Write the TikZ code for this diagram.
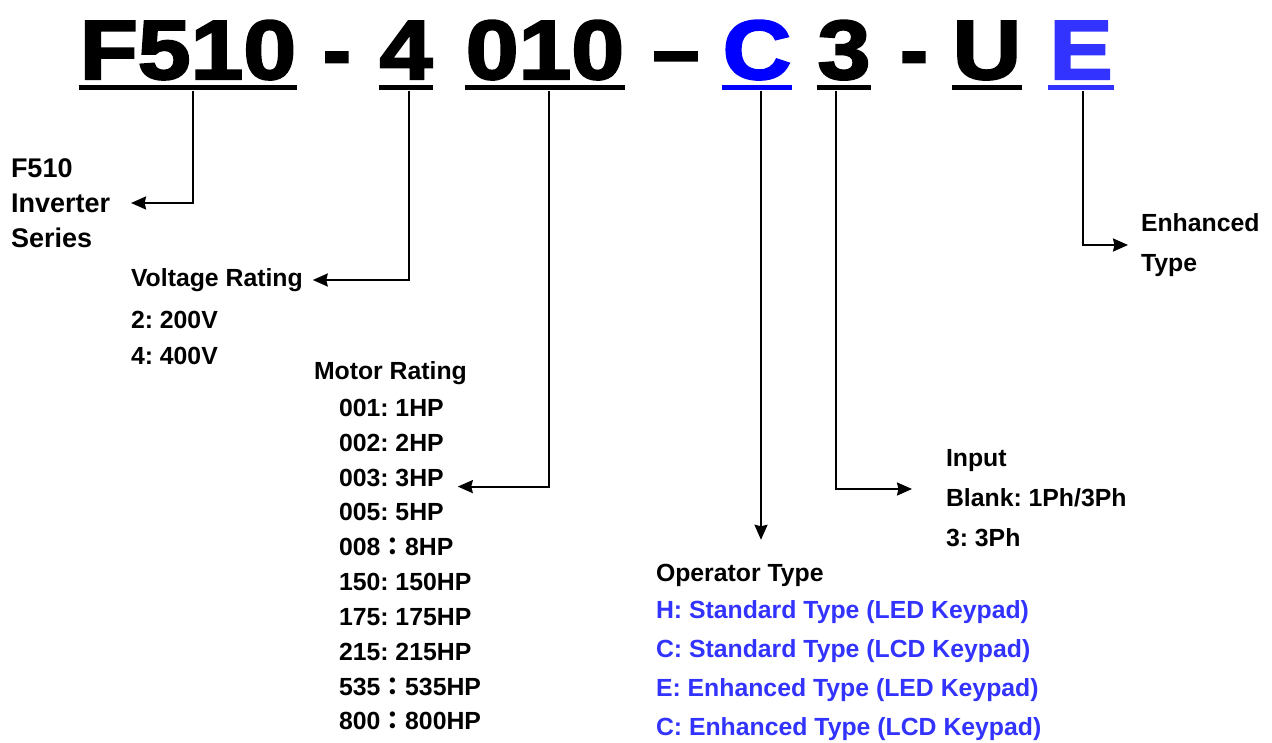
\documentclass[tikz,border=0pt]{standalone}
\usepackage{fontspec}
\usepackage{graphicx}
\setmainfont{Liberation Sans}
\newfontfamily\codefont{Liberation Sans}[FakeBold=2.5]
\newfontfamily\cjk{Noto Sans CJK JP}
\usetikzlibrary{arrows.meta}
\definecolor{codeblue}{RGB}{0,0,255}
\definecolor{optblue}{RGB}{51,51,255}
\frenchspacing

\begin{document}
\begin{tikzpicture}[x=1pt,y=-1pt,line width=2pt,>={Stealth[length=15pt,width=13pt,inset=1.5pt]},
  code/.style={font=\codefont\bfseries\fontsize{84}{84}\selectfont,inner sep=0pt,anchor=base},
  lbl/.style={font=\bfseries\fontsize{24.8}{30}\selectfont,inner sep=0pt,anchor=west},
  uline/.style={line width=5pt},
  conn/.style={->,line width=2pt}]
  \useasboundingbox (0,0) rectangle (1272,743);
  % Model code (top row)
  \node[code] (f510) at (188,79) {\scalebox{1.13}[1]{F510}};
  \node[code] (d1)   at (337,79) {-};
  \node[code] (n4)   at (406,79) {\scalebox{1.13}[1]{4}};
  \node[code] (n010) at (545,79) {\scalebox{1.13}[1]{010}};
  \node[code] (d2)   at (676,79) {–};
  \node[code,codeblue] (nC) at (757,79) {\scalebox{1.13}[1]{C}};
  \node[code] (n3)   at (844,79) {\scalebox{1.13}[1]{3}};
  \node[code] (d3)   at (914,79) {-};
  \node[code] (nU)   at (987,79) {\scalebox{1.13}[1]{U}};
  \node[code,optblue] (nE) at (1081,79) {\scalebox{1.13}[1]{E}};
  \foreach \n/\c in {f510/black,n4/black,n010/black,nC/codeblue,n3/black,nU/black,nE/optblue}
    {\draw[uline,\c] ([yshift=-9pt]\n.base west) -- ([yshift=-9pt]\n.base east);}
  % Drop points under the code
  \coordinate (t1) at (193,91);
  \coordinate (t2) at (409,91);
  \coordinate (t3) at (549,91);
  \coordinate (t4) at (761,91);
  \coordinate (t5) at (836,91);
  \coordinate (t6) at (1083,91);
  % Series
  \node[lbl,align=left,font=\bfseries\fontsize{27}{35}\selectfont] (series) at (10,203) {F510\\Inverter\\Series};
  % Voltage rating
  \node[lbl] (volt) at (130,280) {Voltage Rating};
  \node[lbl] (v2) at (130,320) {2: 200V};
  \node[lbl] (v4) at (130,356) {4: 400V};
  % Motor rating
  \node[lbl] (motor) at (313,373) {Motor Rating};
  \foreach \i/\lab in {0/{001: 1HP},1/{002: 2HP},2/{003: 3HP},3/{005: 5HP},4/{008{\cjk ：}8HP},
      5/{150: 150HP},6/{175: 175HP},7/{215: 215HP},8/{535{\cjk ：}535HP},9/{800{\cjk ：}800HP}}
    {\node[lbl] (m\i) at (338,408+34.8*\i) {\lab};}
  % Input
  \node[lbl] (inp) at (945,461) {Input};
  \node[lbl] (blank) at (945,498) {Blank: 1Ph/3Ph};
  \node[lbl] (ph3) at (945,538) {3: 3Ph};
  % Operator type
  \node[lbl] (opt) at (655,575) {Operator Type};
  \foreach \i/\lab in {0/{H: Standard Type (LED Keypad)},1/{C: Standard Type (LCD Keypad)},
      2/{E: Enhanced Type (LED Keypad)},3/{C: Enhanced Type (LCD Keypad)}}
    {\node[lbl,optblue] (o\i) at (655,612+39*\i) {\lab};}
  % Enhanced type
  \node[lbl,align=left,font=\bfseries\fontsize{24.8}{40}\selectfont] (enh) at (1140,245) {Enhanced\\Type};
  % Connectors
  \draw[conn] (t1) |- ([xshift=20pt]series.east);
  \draw[conn] (t2) |- ([xshift=9pt]volt.east);
  \draw[conn] (t3) |- ([xshift=13pt,yshift=-9pt]m2.east);
  \draw[conn,shorten >=23pt] (t4) -- (t4 |- opt.north);
  \draw[conn] (t5) |- ([xshift=-33pt,yshift=9pt]blank.west);
  \draw[conn] (t6) |- ([xshift=-12pt]enh.west);
\end{tikzpicture}
\end{document}
